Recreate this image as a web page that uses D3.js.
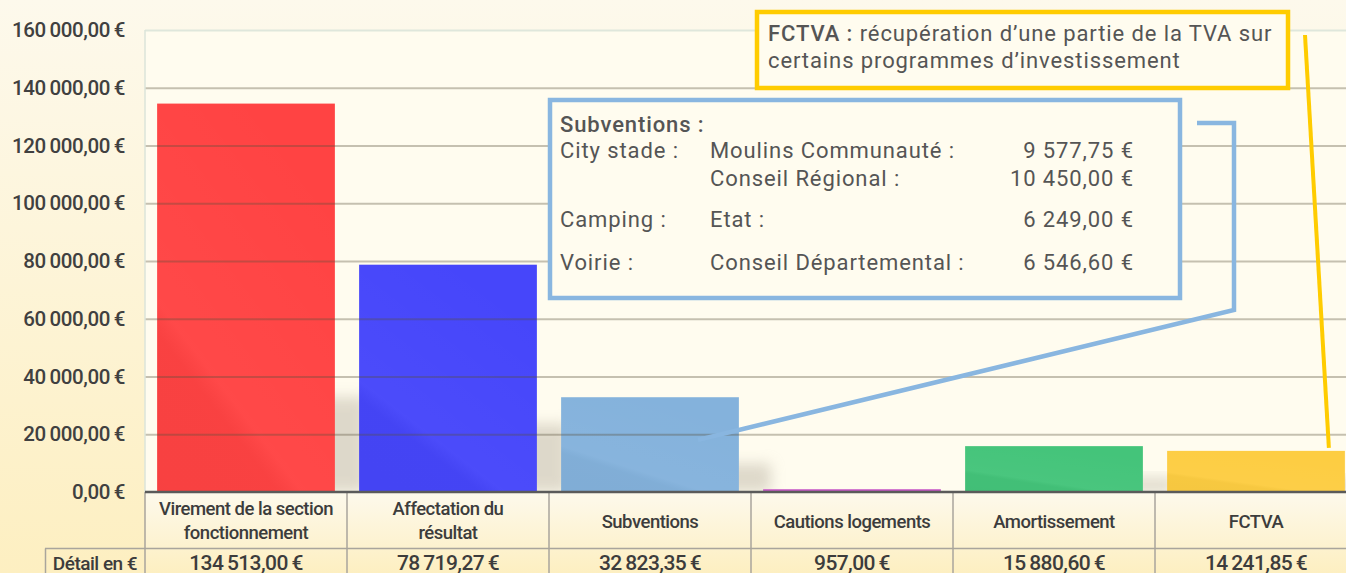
<!DOCTYPE html>
<html>
<head>
<meta charset="utf-8">
<script src="https://cdn.jsdelivr.net/npm/d3@7"></script>
<style>
  html, body { margin: 0; padding: 0; overflow: hidden; }
  svg { display: block; }
</style>
</head>
<body>
<div id="chart"></div>
<script>
var categories = [
  ['Virement de la section', 'fonctionnement'],
  ['Affectation du', 'résultat'],
  ['Subventions'],
  ['Cautions logements'],
  ['Amortissement'],
  ['FCTVA']
];
var values = [134513.00, 78719.27, 32823.35, 957.00, 15880.60, 14241.85];
var barColors = ['#ff4343', '#4646fa', '#84b2dc', '#c653c6', '#44c47a', '#fdcd42'];
var yTicks = [0, 20000, 40000, 60000, 80000, 100000, 120000, 140000, 160000];
var rowLabel = 'Détail en €';

var subvTitle = 'Subventions :';
var subvProjects = ['City stade :', '', 'Camping :', 'Voirie :'];
var subvFunders = ['Moulins Communauté :', 'Conseil Régional :', 'Etat :', 'Conseil Départemental :'];
var subvAmounts = [9577.75, 10450.00, 6249.00, 6546.60];

var fctvaTitle = 'FCTVA :';
var fctvaText = [' récupération d\u2019une partie de la TVA sur', 'certains programmes d\u2019investissement'];

(function() {
  var width = 1346,
      height = 573,
      plotLeft = 145,
      plotRight = 1357,
      plotTop = 30,
      plotBottom = 492;

  var fr = d3.formatLocale({decimal: ',', thousands: '\u2009', grouping: [3], currency: ['', '\u2009€']}),
      frBox = d3.formatLocale({decimal: ',', thousands: ' ', grouping: [3], currency: ['', ' €']}),
      money = fr.format('$,.2f'),
      moneyBox = frBox.format('$,.2f');

  var x = d3.scaleBand().domain(d3.range(categories.length)).range([plotLeft, plotRight])
            .paddingInner(0.12).paddingOuter(0.06),
      y = d3.scaleLinear().domain([0, 160000]).range([plotBottom, plotTop]),
      step = x.step();

  var svg = d3.select('#chart').append('svg').attr('width', width).attr('height', height),
      defs = svg.append('defs');

  var bg = defs.append('linearGradient').attr('id', 'bg').attr('x1', 0).attr('y1', 0).attr('x2', 0).attr('y2', 1);
  bg.append('stop').attr('offset', 0).attr('stop-color', '#fdf9ec');
  bg.append('stop').attr('offset', 1).attr('stop-color', '#fdefc1');

  var gloss = defs.append('linearGradient').attr('id', 'gloss').attr('x1', 0).attr('y1', 1).attr('x2', 0.6).attr('y2', 0);
  gloss.append('stop').attr('offset', 0).attr('stop-color', '#000').attr('stop-opacity', 0.03);
  gloss.append('stop').attr('offset', 0.3).attr('stop-color', '#000').attr('stop-opacity', 0.025);
  gloss.append('stop').attr('offset', 0.36).attr('stop-color', '#fff').attr('stop-opacity', 0.03);
  gloss.append('stop').attr('offset', 1).attr('stop-color', '#fff').attr('stop-opacity', 0);

  defs.append('filter').attr('id', 'blur').attr('x', '-50%').attr('y', '-50%').attr('width', '200%').attr('height', '200%')
    .append('feGaussianBlur').attr('stdDeviation', 7);

  svg.append('rect').attr('width', width).attr('height', height).attr('fill', 'url(#bg)');

  // plot area
  svg.append('rect').attr('x', plotLeft).attr('y', plotTop).attr('width', plotRight - plotLeft).attr('height', plotBottom - plotTop)
    .attr('fill', '#fffcef');

  // soft shadows behind the bars
  var shadowH = function(d) { return Math.min((plotBottom - y(d)) * 0.3, 95); };
  svg.append('g').selectAll('rect').data(values).join('rect')
    .attr('x', function(d, i) { return x(i) + 18; })
    .attr('y', function(d) { return plotBottom - shadowH(d); })
    .attr('width', x.bandwidth() + 14)
    .attr('height', shadowH)
    .attr('fill', '#bdb6a6')
    .attr('opacity', 0.5)
    .attr('filter', 'url(#blur)');

  svg.append('rect').attr('x', plotLeft).attr('y', plotBottom).attr('width', plotRight - plotLeft).attr('height', height - plotBottom)
    .attr('fill', 'url(#bg)');

  // bars
  var bars = svg.append('g');
  bars.selectAll('rect.bar').data(values).join('rect')
    .attr('class', 'bar')
    .attr('x', function(d, i) { return x(i); })
    .attr('y', function(d) { return y(d); })
    .attr('width', x.bandwidth())
    .attr('height', function(d) { return plotBottom - y(d); })
    .attr('fill', function(d, i) { return barColors[i]; });
  bars.selectAll('rect.gloss').data(values).join('rect')
    .attr('class', 'gloss')
    .attr('x', function(d, i) { return x(i); })
    .attr('y', function(d) { return y(d); })
    .attr('width', x.bandwidth())
    .attr('height', function(d) { return plotBottom - y(d); })
    .attr('fill', 'url(#gloss)');

  // gridlines over the bars
  var grid = svg.append('g').attr('transform', 'translate(' + plotLeft + ',0)')
    .call(d3.axisLeft(y).tickValues(yTicks.slice(1)).tickSize(-(plotRight - plotLeft)).tickFormat(''));
  grid.select('.domain').remove();
  grid.selectAll('.tick line')
    .attr('stroke', function(d) { return d === 160000 ? '#dfe7dc' : 'rgba(90,80,60,0.35)'; })
    .attr('stroke-width', 2);

  svg.append('line').attr('x1', plotLeft).attr('x2', plotLeft).attr('y1', plotTop).attr('y2', plotBottom)
    .attr('stroke', '#dbe5da').attr('stroke-width', 1.5);

  // y axis labels
  var yAxis = svg.append('g').attr('transform', 'translate(' + (plotLeft - 20) + ',0)')
    .call(d3.axisLeft(y).tickValues(yTicks).tickSize(0).tickPadding(0).tickFormat(money));
  yAxis.select('.domain').remove();
  yAxis.selectAll('text')
    .attr('font-family', 'Roboto, sans-serif').attr('font-size', 20.5).attr('font-weight', 500)
    .attr('letter-spacing', -0.4)
    .attr('fill', '#404040');

  // data table
  var table = svg.append('g');
  var cellFont = function(sel) {
    sel.attr('font-family', 'Roboto, sans-serif').attr('font-size', 18.5).attr('font-weight', 500)
      .attr('letter-spacing', -0.5).attr('fill', '#3c3c3c').attr('text-anchor', 'middle');
  };
  var edges = d3.range(categories.length + 1).map(function(i) { return plotLeft + i * step; });
  table.selectAll('line.v').data(edges).join('line')
    .attr('class', 'v')
    .attr('x1', function(d) { return d; }).attr('x2', function(d) { return d; })
    .attr('y1', plotBottom).attr('y2', height)
    .attr('stroke', '#a9a59c').attr('stroke-width', 1.5);
  table.append('line').attr('x1', 45).attr('x2', width).attr('y1', 548.5).attr('y2', 548.5)
    .attr('stroke', '#a9a59c').attr('stroke-width', 1.5);
  table.append('line').attr('x1', 45.5).attr('x2', 45.5).attr('y1', 548.5).attr('y2', height)
    .attr('stroke', '#a9a59c').attr('stroke-width', 1.5);

  table.selectAll('text.cat').data(categories).join('text')
    .attr('class', 'cat')
    .attr('x', function(d, i) { return plotLeft + (i + 0.5) * step; })
    .attr('y', function(d) { return d.length > 1 ? 515 : 528; })
    .call(cellFont)
    .each(function(d) {
      var cx = d3.select(this).attr('x');
      d3.select(this).selectAll('tspan').data(d).join('tspan')
        .attr('x', cx)
        .attr('dy', function(t, j) { return j ? 24 : 0; })
        .text(function(t) { return t; });
    });

  table.selectAll('text.val').data(values).join('text')
    .attr('class', 'val')
    .attr('x', function(d, i) { return plotLeft + (i + 0.5) * step; })
    .attr('y', 570)
    .call(cellFont)
    .attr('font-size', 21).attr('letter-spacing', -0.6)
    .text(money);
  table.append('text').attr('x', 95).attr('y', 570).call(cellFont).attr('font-size', 19).text(rowLabel);

  // axis baseline
  svg.append('line').attr('x1', plotLeft).attr('x2', width).attr('y1', plotBottom).attr('y2', plotBottom)
    .attr('stroke', '#5a5a5a').attr('stroke-width', 2.5);

  // subventions callout
  var blue = '#89b6e0';
  svg.append('polyline')
    .attr('points', [[1197, 123], [1234, 123], [1234, 310], [x(2) + x.bandwidth() * 0.77, y(values[2] * 0.55)]].join(' '))
    .attr('fill', 'none').attr('stroke', blue).attr('stroke-width', 4.5);
  svg.append('rect').attr('x', 550).attr('y', 100).attr('width', 630).attr('height', 198)
    .attr('fill', '#fffcef').attr('stroke', blue).attr('stroke-width', 4.5);

  var boxText = svg.append('g').attr('font-family', 'Roboto, sans-serif').attr('font-size', 22)
    .attr('letter-spacing', 0.9).attr('fill', '#555');
  boxText.append('text').attr('x', 560).attr('y', 132).attr('font-weight', 500).text(subvTitle);
  var rowY = [158, 186, 227, 270];
  boxText.selectAll('text.proj').data(subvProjects).join('text').attr('class', 'proj')
    .attr('x', 560).attr('y', function(d, i) { return rowY[i]; }).text(function(d) { return d; });
  boxText.selectAll('text.fund').data(subvFunders).join('text').attr('class', 'fund')
    .attr('x', 710).attr('y', function(d, i) { return rowY[i]; }).text(function(d) { return d; });
  boxText.selectAll('text.amt').data(subvAmounts).join('text').attr('class', 'amt')
    .attr('x', 1134).attr('y', function(d, i) { return rowY[i]; }).attr('text-anchor', 'end').text(moneyBox);

  // FCTVA callout
  var gold = '#ffcc00';
  svg.append('line').attr('x1', 1305).attr('y1', 35)
    .attr('x2', x(5) + x.bandwidth() * 0.91).attr('y2', y(values[5]) - 3)
    .attr('stroke', gold).attr('stroke-width', 4);
  svg.append('rect').attr('x', 757).attr('y', 12).attr('width', 531).attr('height', 76)
    .attr('fill', '#fffcef').attr('stroke', gold).attr('stroke-width', 4.5);
  var ft = svg.append('g').attr('font-family', 'Roboto, sans-serif').attr('font-size', 22)
    .attr('letter-spacing', 0.9).attr('fill', '#555');
  var first = ft.append('text').attr('x', 768).attr('y', 41);
  first.append('tspan').attr('font-weight', 500).text(fctvaTitle);
  first.append('tspan').text(fctvaText[0]);
  ft.append('text').attr('x', 768).attr('y', 68).text(fctvaText[1]);
})();
</script>
</body>
</html>
